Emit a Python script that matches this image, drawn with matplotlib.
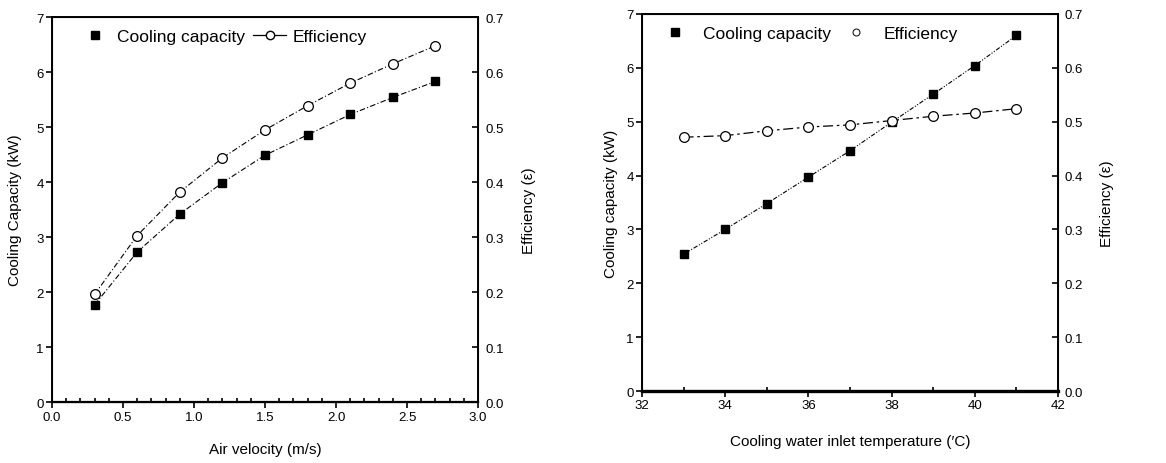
import numpy as np
import matplotlib.pyplot as plt
from matplotlib.ticker import MultipleLocator, FormatStrFormatter
from matplotlib.lines import Line2D

plt.rcParams['font.family'] = ['Liberation Sans', 'DejaVu Sans']

# left panel: air velocity sweep
air_velocity = [0.3, 0.6, 0.9, 1.2, 1.5, 1.8, 2.1, 2.4, 2.7]
cap_air = [1.77, 2.73, 3.42, 3.99, 4.49, 4.86, 5.23, 5.54, 5.83]
eff_air = [0.196, 0.303, 0.382, 0.444, 0.495, 0.539, 0.580, 0.615, 0.648]

# right panel: cooling water inlet temperature sweep
water_temp = [33, 34, 35, 36, 37, 38, 39, 40, 41]
cap_water = [2.54, 3.00, 3.48, 3.97, 4.46, 4.99, 5.51, 6.04, 6.60]
eff_water = [0.471, 0.474, 0.483, 0.490, 0.494, 0.502, 0.510, 0.516, 0.524]


def style_axes(ax, ax2, lw_bottom=1.6):
    for s in ax.spines.values():
        s.set_linewidth(1.4)
    ax.spines['bottom'].set_linewidth(lw_bottom)
    ax.tick_params(axis='both', which='major', direction='out', length=4,
                   width=1.2, labelsize=9.5, pad=2)
    ax.tick_params(axis='x', which='minor', direction='in', length=3, width=1.2)
    ax2.tick_params(axis='y', which='major', direction='in', length=4,
                    width=1.2, labelsize=9.5, pad=5)
    ax2.set_ylim(0, 0.7)
    ax2.yaxis.set_major_locator(MultipleLocator(0.1))
    ax2.yaxis.set_major_formatter(FormatStrFormatter('%.1f'))


fig = plt.figure(figsize=(11.66, 4.64), dpi=100)

# ---- left ----
ax = fig.add_axes([0.0446, 0.131, 0.3654, 0.830])
ax2 = ax.twinx()
ax.plot(air_velocity, cap_air, color='black', lw=0.8, dashes=(5, 2, 1, 2),
        marker='s', ms=6, mfc='black', mec='black')
ax2.plot(air_velocity, eff_air, color='black', lw=0.8, dashes=(5, 2, 1, 2),
         marker='o', ms=7, mfc='white', mec='black', mew=0.9)
ax.set_xlim(0, 3.0)
ax.set_ylim(0, 7)
ax.xaxis.set_major_locator(MultipleLocator(0.5))
ax.xaxis.set_minor_locator(MultipleLocator(0.1))
ax.xaxis.set_major_formatter(FormatStrFormatter('%.1f'))
ax.yaxis.set_major_locator(MultipleLocator(1))
ax.set_xlabel('Air velocity (m/s)', fontsize=11, labelpad=14)
ax.set_ylabel('Cooling Capacity (kW)', fontsize=11, labelpad=10)
ax2.set_ylabel('Efficiency (\u03b5)', fontsize=11, labelpad=13)
style_axes(ax, ax2)
h1 = Line2D([], [], ls='none', marker='s', ms=6, color='black')
h2 = Line2D([], [], ls='-', lw=0.9, marker='o', ms=6, color='black', mfc='white')
ax.legend([h1, h2], ['Cooling capacity', 'Efficiency'], loc='upper left',
          ncol=2, frameon=False, fontsize=12.5, handlelength=1.9,
          columnspacing=0.45, handletextpad=0.35, bbox_to_anchor=(0.025, 1.01))

# ---- right ----
bx = fig.add_axes([0.5506, 0.155, 0.3568, 0.813])
bx2 = bx.twinx()
bx.plot(water_temp, cap_water, color='black', lw=0.8, dashes=(4, 1.5, 1, 1.5, 1, 1.5),
        marker='s', ms=6, mfc='black', mec='black')
bx2.plot(water_temp, eff_water, color='black', lw=0.9, dashes=(8, 3, 2, 3),
         marker='o', ms=7, mfc='white', mec='black', mew=0.9)
bx.set_xlim(32, 42)
bx.set_ylim(0, 7)
bx.xaxis.set_major_locator(MultipleLocator(2))
bx.xaxis.set_minor_locator(MultipleLocator(1))
bx.yaxis.set_major_locator(MultipleLocator(1))
bx.set_xlabel('Cooling water inlet temperature (\u2032C)', fontsize=11, labelpad=16)
bx.set_ylabel('Cooling capacity (kW)', fontsize=11, labelpad=6)
bx2.set_ylabel('Efficiency (\u03b5)', fontsize=11, labelpad=12)
style_axes(bx, bx2, lw_bottom=2.4)
g1 = Line2D([], [], ls='none', marker='s', ms=6, color='black')
g2 = Line2D([], [], ls='none', marker='o', ms=5, color='black', mfc='white', mew=0.7)
bx.legend([g1, g2], ['Cooling capacity', 'Efficiency'], loc='upper left',
          ncol=2, frameon=False, fontsize=12.5, handlelength=2.0,
          columnspacing=0.45, handletextpad=0.6, bbox_to_anchor=(-0.0, 1.01))

fig.savefig('out.png', dpi=100)
